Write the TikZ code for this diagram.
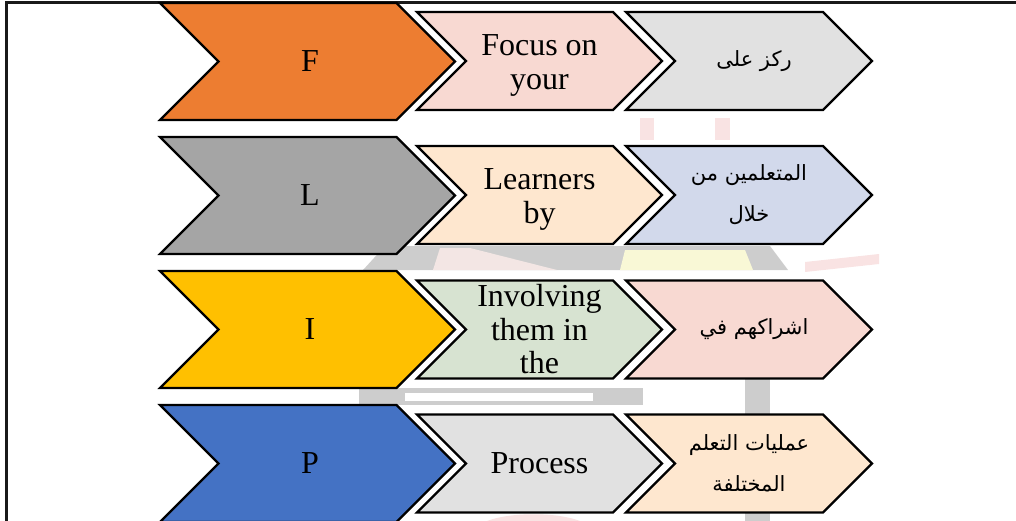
\documentclass[tikz,border=0pt]{standalone}
\usepackage{fontspec}
\setmainfont{Liberation Serif}
\newfontfamily\arabicfont[Script=Arabic]{DejaVu Sans}
\TeXXeTstate=1
\usetikzlibrary{shapes.symbols}
\definecolor{forange}{HTML}{ED7D31}
\definecolor{lgray}{HTML}{A5A5A5}
\definecolor{iyellow}{HTML}{FFC000}
\definecolor{pblue}{HTML}{4472C4}
\definecolor{pinkbox}{HTML}{F8D9D2}
\definecolor{peachbox}{HTML}{FEE7CF}
\definecolor{greenbox}{HTML}{D7E3D1}
\definecolor{graybox}{HTML}{E1E1E1}
\definecolor{bluebox}{HTML}{D2D9EB}
\definecolor{markgray}{HTML}{CDCDCD}
\definecolor{markpale}{HTML}{F3E6E4}
\definecolor{markred}{HTML}{F9E3E3}
\definecolor{markyellow}{HTML}{F9F8D6}
\newcommand{\twolinedrop}{\rule{0pt}{30pt}}
\tikzset{
  chevron/.style={draw=black,line width=2.2pt,shape=signal,signal to=east,signal from=west,
    signal pointer angle=90,inner sep=0pt,text=black,align=center},
  bigchevron/.style={chevron,minimum width=295pt,minimum height=117pt,font=\fontsize{32}{33}\selectfont},
  engchevron/.style={chevron,minimum width=245pt,minimum height=98pt,font=\fontsize{32}{33.5}\selectfont},
  arachevron/.style={chevron,minimum width=246pt,minimum height=98pt,font=\fontsize{21}{41}\arabicfont}
}
\begin{document}
\begin{tikzpicture}[x=1pt,y=-1pt]
  \useasboundingbox (0,0) rectangle (1016,521);
  % faint picture behind the arrows
  \fill[markgray] (363,270) -- (385,246) -- (770,246) -- (788,270) -- cycle;
  \fill[markpale] (433,270) -- (440,248) -- (470,248) -- (557,270) -- cycle;
  \fill[markyellow] (620,270) -- (625,250) -- (745,250) -- (753,270) -- cycle;
  \fill[markgray] (359,388) rectangle (643,405);
  \fill[white] (405,393) rectangle (593,401);
  \fill[markgray] (745,378) rectangle (770,521);
  \fill[markred] (640,118) rectangle (654,140);
  \fill[markred] (715,118) rectangle (730,140);
  \fill[markred] (805,272) -- (805,262) -- (879,254) -- (879,264) -- cycle;
  \fill[markred] (487,521) .. controls (510,512) and (557,512) .. (580,521) -- cycle;
  % frame
  \draw[line width=2.5pt,black!90] (6.5,521) -- (6.5,2.5) -- (1016,2.5);
  % first column
  \node[bigchevron,fill=forange] (letterF) at (307.5,61.5) {\hspace*{5pt}F};
  \node[bigchevron,fill=lgray] (letterL) at (307.5,195.5) {\hspace*{5pt}L};
  \node[bigchevron,fill=iyellow] (letterI) at (307.5,329.5) {\hspace*{5pt}I};
  \node[bigchevron,fill=pblue] (letterP) at (307.5,463.5) {\hspace*{5pt}P};
  % second column
  \node[engchevron,fill=pinkbox] (focus) at (539.5,61) {\twolinedrop Focus on\\your};
  \node[engchevron,fill=peachbox] (learners) at (539.5,195) {\twolinedrop Learners\\by};
  \node[engchevron,fill=greenbox] (involving) at (539.5,329.5) {Involving\\them in\\the};
  \node[engchevron,fill=graybox] (process) at (539.5,463.5) {Process};
  % third column
  \node[arachevron,fill=graybox] (rakkiz) at (749,61) {\hspace*{10pt}\beginR ركز على\endR};
  \node[arachevron,fill=bluebox] (mutaallimin) at (749,195) {\beginR المتعلمين من\endR\\\beginR خلال\endR};
  \node[arachevron,fill=pinkbox] (ishrak) at (749,329.5) {\hspace*{10pt}\beginR اشراكهم في\endR};
  \node[arachevron,fill=peachbox] (amaliyat) at (749,463.5) {\beginR عمليات التعلم\endR\\\beginR المختلفة\endR};
\end{tikzpicture}
\end{document}
